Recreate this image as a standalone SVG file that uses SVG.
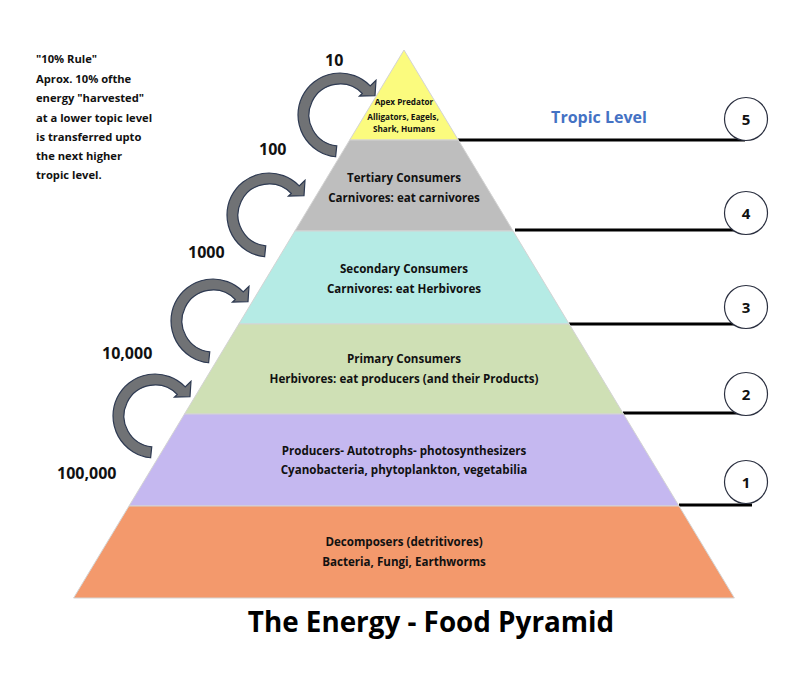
<svg xmlns="http://www.w3.org/2000/svg" xmlns:xlink="http://www.w3.org/1999/xlink" width="800" height="682" viewBox="0 0 800 682">
<defs>
<style>
text{font-family:"Open Sans","Liberation Sans",sans-serif;font-weight:700;fill:#111}
.lay{stroke:#d4d4d4;stroke-width:1}
.lt{font-size:11.6px;text-anchor:middle}
.ap{font-size:8.2px;text-anchor:middle}
.num{font-size:16px}
.note{font-size:11.2px}
.lvl{fill:#fff;stroke:#2b3040;stroke-width:1.2}
.lvn{font-size:15px;text-anchor:middle}
.ln{stroke:#000;stroke-width:3.2;fill:none}
.arr{fill:#707275;stroke:#2e3a52;stroke-width:1.2;stroke-linejoin:miter}
</style>
<path id="carrow" d="M -4.39 41.77 A 42 42 0 1 1 30.21 -29.18 L 36 -34.7 L 35 -19.4 L 19.4 -18.8 L 22.30 -21.53 A 31 31 0 1 0 -3.24 30.83 Z"/>
</defs>
<rect width="800" height="682" fill="#fff"/>

<g id="connectors">
<line class="ln" x1="458" y1="140" x2="745" y2="140"/>
<line class="ln" x1="515" y1="230" x2="740" y2="230"/>
<line class="ln" x1="569" y1="324" x2="740" y2="324"/>
<line class="ln" x1="623" y1="413" x2="740" y2="413"/>
<line class="ln" x1="679" y1="505" x2="752" y2="505"/>
<use href="#carrow" class="arr" transform="translate(340,115)"/>
<use href="#carrow" class="arr" transform="translate(269,215)"/>
<use href="#carrow" class="arr" transform="translate(213,321)"/>
<use href="#carrow" class="arr" transform="translate(155,416)"/>
</g>

<g id="level5">
<polygon class="lay" fill="#fbfb7e" points="404,50 458.3,140 349.7,140"/>
<text class="ap" x="404" y="105">Apex Predator</text>
<text class="ap" x="403" y="120">Alligators, Eagels,</text>
<text class="ap" x="404" y="132">Shark, Humans</text>
</g>
<g id="level4">
<polygon class="lay" fill="#bebebe" points="349.7,140 458.3,140 513.1,231 294.9,231"/>
<text class="lt" x="404" y="182">Tertiary Consumers</text>
<text class="lt" x="404" y="202">Carnivores: eat carnivores</text>
</g>
<g id="level3">
<polygon class="lay" fill="#b5ebe5" points="294.9,231 513.1,231 569.2,324 238.8,324"/>
<text class="lt" x="404" y="273">Secondary Consumers</text>
<text class="lt" x="404" y="293">Carnivores: eat Herbivores</text>
</g>
<g id="level2">
<polygon class="lay" fill="#cfe0b5" points="238.8,324 569.2,324 623.5,414 184.5,414"/>
<text class="lt" x="404" y="363">Primary Consumers</text>
<text class="lt" x="404" y="383">Herbivores: eat producers (and their Products)</text>
</g>
<g id="level1">
<polygon class="lay" fill="#c5b8f0" points="184.5,414 623.5,414 679,506 129,506"/>
<text class="lt" x="404" y="455">Producers- Autotrophs- photosynthesizers</text>
<text class="lt" x="404" y="474">Cyanobacteria, phytoplankton, vegetabilia</text>
</g>
<g id="level0">
<polygon class="lay" fill="#f3996c" points="129,506 679,506 734.4,598 73.6,598"/>
<text class="lt" x="404" y="546">Decomposers (detritivores)</text>
<text class="lt" x="404" y="566">Bacteria, Fungi, Earthworms</text>
</g>

<g id="energy-numbers">
<text class="num" x="325" y="66">10</text>
<text class="num" x="259" y="155">100</text>
<text class="num" x="188" y="258">1000</text>
<text class="num" x="102" y="359">10,000</text>
<text class="num" x="57" y="479">100,000</text>
</g>

<g id="rule-note">
<text class="note" x="36" y="63">"10% Rule"</text>
<text class="note" x="36" y="83">Aprox. 10% ofthe</text>
<text class="note" x="36" y="102">energy "harvested"</text>
<text class="note" x="36" y="122">at a lower topic level</text>
<text class="note" x="36" y="141">is transferred upto</text>
<text class="note" x="36" y="160">the next higher</text>
<text class="note" x="36" y="179">tropic level.</text>
</g>

<g id="tropic-label">
<text x="599" y="123" style="font-size:16px;fill:#4472c4;text-anchor:middle">Tropic Level</text>
</g>

<g id="circle5"><circle class="lvl" cx="746" cy="119" r="21.5"/><text class="lvn" x="746" y="124.5">5</text></g>
<g id="circle4"><circle class="lvl" cx="746" cy="213" r="21.5"/><text class="lvn" x="746" y="218.5">4</text></g>
<g id="circle3"><circle class="lvl" cx="746" cy="307" r="21.5"/><text class="lvn" x="746" y="312.5">3</text></g>
<g id="circle2"><circle class="lvl" cx="746" cy="394" r="21.5"/><text class="lvn" x="746" y="399.5">2</text></g>
<g id="circle1"><circle class="lvl" cx="746" cy="482" r="21.5"/><text class="lvn" x="746" y="487.5">1</text></g>

<g id="title">
<text x="431" y="632" style="font-size:27.8px;text-anchor:middle;fill:#000">The Energy - Food Pyramid</text>
</g>
</svg>
